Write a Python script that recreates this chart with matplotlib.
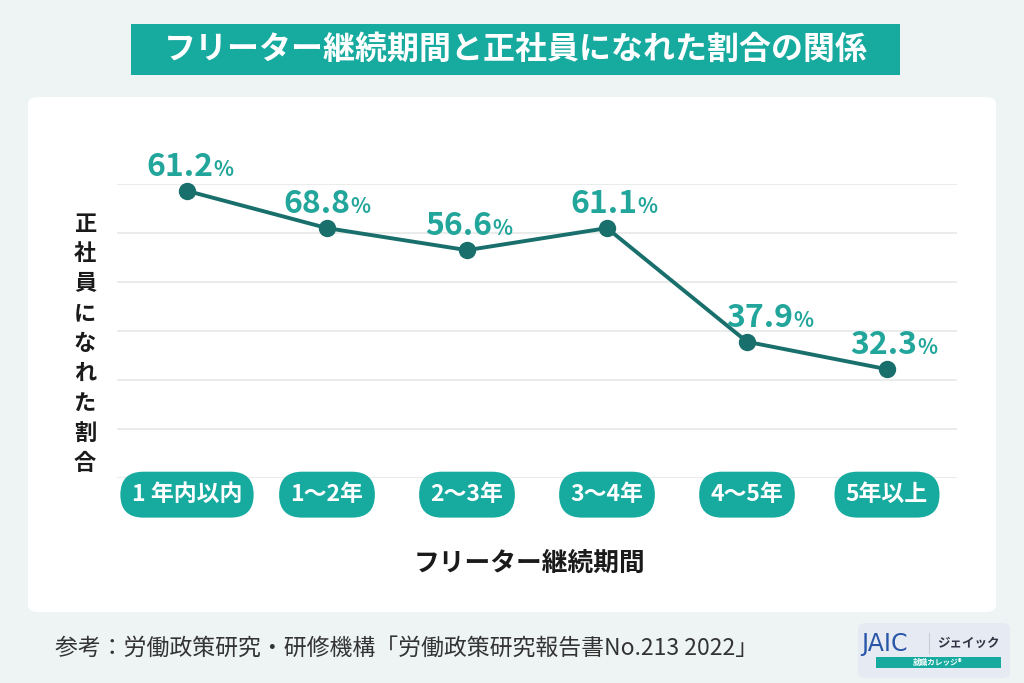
import numpy as np
import matplotlib.pyplot as plt
from matplotlib.patches import FancyBboxPatch, Rectangle

plt.rcParams['font.family'] = ['Noto Sans CJK JP', 'DejaVu Sans']

# data
periods = ['1 年内以内', '1～2年', '2～3年', '3～4年', '4～5年', '5年以上']
rate_labels = ['61.2', '68.8', '56.6', '61.1', '37.9', '32.3']
# heights of the points as drawn in the source picture (grid step = 10)
drawn_rate = [58.6, 51.0, 46.5, 51.0, 27.8, 22.2]
label_dx = [26, 23, 25, 30, 46, 30]

BG = '#eef4f4'
TEAL = '#17aa9f'
LINE = '#186f6b'
LABEL = '#22a59a'

W, H = 1024, 683
fig = plt.figure(figsize=(W / 100, H / 100), dpi=100)
fig.patch.set_facecolor(BG)


def fx(x):
    return x / W


def fy(y):
    return 1 - y / H


# white panel
fig.patches.append(FancyBboxPatch((fx(28), fy(612)), fx(968), 515 / H,
                                  boxstyle='round,pad=0,rounding_size=0.01',
                                  transform=fig.transFigure, facecolor='white',
                                  edgecolor='none', zorder=0))

# title box
fig.patches.append(Rectangle((fx(131), fy(75)), fx(769), 51 / H,
                             transform=fig.transFigure, facecolor=TEAL,
                             edgecolor='none', zorder=1))
fig.text(fx(516), fy(50), 'フリーター継続期間と正社員になれた割合の関係',
         color='white', fontsize=23, fontweight='bold',
         ha='center', va='center')

# plot area
ax = fig.add_axes([fx(117), fy(478), fx(840), 294 / H])
ax.set_zorder(3)
ax.set_facecolor('none')
x = np.arange(len(periods))
ax.plot(x, drawn_rate, color=LINE, lw=2.8, marker='o', ms=11.5, zorder=3,
        clip_on=False)
ax.set_xlim(-0.5, 5.5)
ax.set_ylim(0, 60)
ax.set_yticks(np.arange(0, 61, 10))
ax.grid(axis='y', color='#e4e6e6', lw=1.1)
ax.tick_params(left=False, bottom=False, labelleft=False, labelbottom=False)
for s in ax.spines.values():
    s.set_visible(False)

for i, (lab, v) in enumerate(zip(rate_labels, drawn_rate)):
    ax.annotate(lab, (i, v), xytext=(label_dx[i], 15), textcoords='offset pixels',
                ha='right', va='baseline', color=LABEL, fontsize=23,
                fontweight='semibold', zorder=4)
    ax.annotate('%', (i, v), xytext=(label_dx[i], 15), textcoords='offset pixels',
                ha='left', va='baseline', color=LABEL, fontsize=15,
                fontweight='semibold', zorder=4)

# category pills
for i, p in enumerate(periods):
    ax.text(i, -3.4, p, ha='center', va='center', color='white', fontsize=16.5,
            fontweight='bold', zorder=5,
            bbox=dict(boxstyle='round,pad=0.5,rounding_size=1.0',
                      facecolor=TEAL, edgecolor='none'))

# axis titles
ylab = '正社員になれた割合'
for k, ch in enumerate(ylab):
    fig.text(fx(85), fy(224 + k * 29.9), ch, ha='center', va='center',
             fontsize=16, fontweight='bold', color='#1a1a1a')
fig.text(fx(530), fy(563), 'フリーター継続期間', ha='center', va='center',
         fontsize=18.5, fontweight='bold', color='#1a1a1a')

# footer
fig.text(fx(55), fy(648), '参考：労働政策研究・研修機構「労働政策研究報告書No.213 2022」',
         ha='left', va='center', fontsize=16.5, color='#333333')

# logo
fig.patches.append(FancyBboxPatch((fx(858), fy(678)), fx(152), 55 / H,
                                  boxstyle='round,pad=0,rounding_size=0.008',
                                  transform=fig.transFigure, facecolor='#e6ebf3',
                                  edgecolor='none'))
fig.text(fx(861), fy(644), 'JAIC', ha='left', va='center', fontsize=17,
         color='#2956a8', family='DejaVu Sans')
fig.lines.append(plt.Line2D([fx(929), fx(929)], [fy(633), fy(653)],
                            transform=fig.transFigure, color='#c8ccd4', lw=0.8))
fig.text(fx(968), fy(643), 'ジェイック', ha='center', va='center', fontsize=9,
         fontweight='bold', color='#333344')
fig.patches.append(Rectangle((fx(876), fy(668)), fx(125), 11 / H,
                             transform=fig.transFigure, facecolor=TEAL,
                             edgecolor='none'))
fig.text(fx(938), fy(662.5), '就職カレッジ®', ha='center', va='center',
         fontsize=5.5, color='white', fontweight='bold')

fig.savefig('out.png', dpi=100, facecolor=fig.get_facecolor())
